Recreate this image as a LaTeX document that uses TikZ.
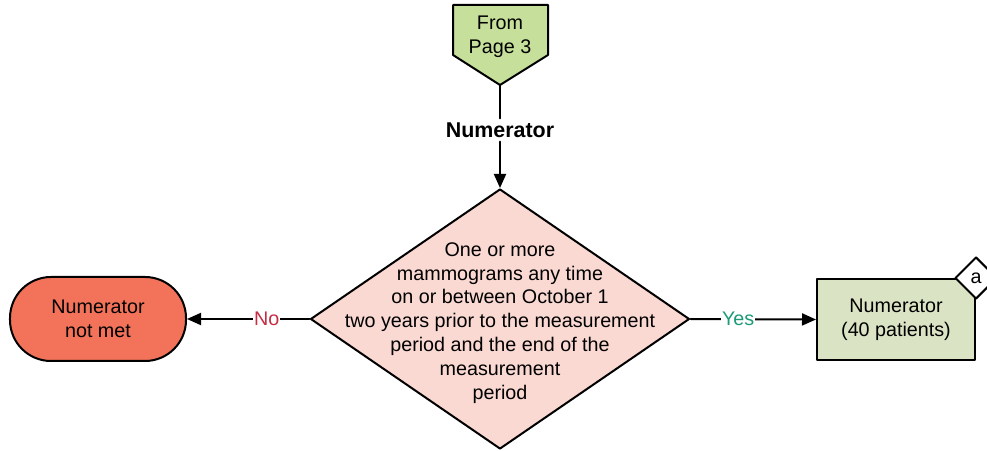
\documentclass[tikz,border=0pt]{standalone}
\usepackage{fontspec}
\setmainfont{Liberation Sans}
\usetikzlibrary{shapes.geometric,arrows.meta}

\definecolor{pagegreen}{HTML}{C6E09C}
\definecolor{notmetred}{HTML}{F3735A}
\definecolor{testpink}{HTML}{FBD9D3}
\definecolor{numgreen}{HTML}{DAE4C5}
\definecolor{nored}{HTML}{C62D42}
\definecolor{yesteal}{HTML}{1D9A78}

\tikzset{
  flowline/.style={line width=2bp},
  flowarrow/.style={flowline,-{Triangle[length=14bp,width=12bp]}},
  flowtext/.style={font=\fontsize{19.8}{24}\selectfont,align=center},
  decision/.style={draw,flowline,shape=diamond,fill=testpink,inner sep=0pt,
    minimum width=379bp,minimum height=260bp},
  terminal/.style={draw,flowline,fill=notmetred,rounded corners=41bp,
    minimum width=176bp,minimum height=84bp,flowtext},
  result/.style={draw,flowline,fill=numgreen,minimum width=158bp,
    minimum height=81bp,flowtext},
  notemark/.style={draw,flowline,shape=diamond,fill=white,inner sep=0pt,
    minimum size=42bp,font=\fontsize{19.8}{20}\selectfont},
  branch/.style={fill=white,inner sep=1bp,font=\fontsize{19.8}{20}\selectfont}
}

\begin{document}
\begin{tikzpicture}[x=1bp,y=-1bp,line cap=round,line join=round]
\useasboundingbox (0,0) rectangle (987,451);

% off-page connector
\draw[flowline,fill=pagegreen] (453,5) -- (548,5) -- (548,55) -- (500,85)
  -- (453,55) -- cycle;
\coordinate (fromtip) at (500,85);
\node[flowtext,text depth=0pt,inner sep=0pt] (frompage) at (500,35) {From\\Page 3};

% numerator label
\node[font=\fontsize{21.5}{22}\selectfont\bfseries,inner sep=4bp] (numlabel) at (500,130) {Numerator};

% decision
\node[decision] (test) at (500,319) {};
\node[flowtext] (testtext) at (500,323) {One or more\\mammograms any time\\on or between October 1\\two years prior to the measurement\\period and the end of the\\measurement\\period};

% outcomes
\node[terminal] (notmet) at (98,319) {Numerator\\not met};
\node[result] (numerator) at (896,319.5) {Numerator\\(40 patients)};
\node[notemark] (notea) at (numerator.north east) {a};

% connectors
\draw[flowline] (fromtip) -- (numlabel.north);
\draw[flowarrow] (numlabel.south) -- (test.north);
\draw[flowarrow] (test.west) -- node[branch,text=nored,pos=0.35] {No} (notmet.east);
\draw[flowarrow] (test.east) -- node[branch,text=yesteal,pos=0.38] {Yes} (numerator.west);

\end{tikzpicture}
\end{document}
